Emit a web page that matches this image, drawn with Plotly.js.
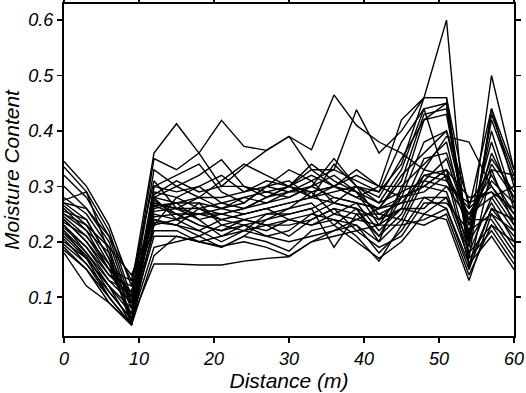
<!DOCTYPE html>
<html>
<head>
<meta charset="utf-8">
<script src="https://cdn.plot.ly/plotly-3.0.1.min.js"></script>
<style>html,body{margin:0;padding:0;background:#fff;}#chart{width:526px;height:393px;}</style>
</head>
<body>
<div id="chart"></div>
<script>
const distance = [0,3,6,9,12,15,18,21,24,27,30,33,36,39,42,45,48,51,54,57,60];

const s01 = [.345,.300,.230,.120,.360,.413,.360,.300,.335,.365,.390,.366,.465,.410,.380,.360,.330,.390,.380,.300,.250];
const s02 = [.335,.290,.220,.100,.350,.330,.360,.419,.372,.365,.390,.330,.300,.330,.300,.280,.300,.330,.220,.340,.280];
const s03 = [.320,.280,.210,.090,.330,.300,.320,.348,.300,.280,.300,.330,.330,.438,.360,.400,.460,.600,.150,.330,.230];
const s04 = [.300,.260,.200,.080,.300,.290,.300,.320,.290,.300,.310,.280,.340,.300,.290,.340,.460,.460,.200,.500,.330];
const s05 = [.280,.250,.190,.060,.290,.280,.260,.270,.280,.290,.300,.340,.310,.290,.270,.330,.440,.450,.170,.440,.300];
const s06 = [.275,.290,.180,.050,.280,.270,.270,.260,.280,.270,.290,.300,.280,.270,.260,.310,.430,.440,.190,.430,.320];
const s07 = [.270,.240,.170,.050,.270,.260,.260,.250,.260,.280,.290,.290,.300,.290,.230,.290,.420,.430,.210,.400,.270];
const s08 = [.265,.230,.160,.060,.275,.250,.250,.240,.250,.260,.270,.280,.290,.300,.240,.280,.380,.400,.230,.380,.260];
const s09 = [.260,.220,.150,.070,.280,.240,.270,.230,.240,.250,.250,.260,.280,.270,.220,.260,.350,.360,.240,.350,.290];
const s10 = [.255,.240,.170,.080,.270,.260,.250,.260,.250,.260,.240,.250,.270,.260,.210,.250,.330,.320,.250,.320,.250];
const s11 = [.250,.220,.180,.090,.260,.270,.240,.250,.240,.230,.230,.240,.260,.250,.250,.240,.320,.310,.260,.300,.240];
const s12 = [.245,.210,.160,.100,.265,.250,.230,.220,.230,.220,.240,.230,.250,.240,.230,.230,.310,.300,.270,.290,.230];
const s13 = [.240,.200,.150,.110,.250,.240,.220,.200,.220,.250,.260,.270,.230,.260,.200,.300,.300,.290,.180,.280,.220];
const s14 = [.240,.200,.140,.120,.240,.230,.210,.190,.210,.240,.250,.260,.190,.250,.210,.280,.290,.320,.160,.260,.210];
const s15 = [.235,.210,.150,.130,.255,.260,.240,.210,.230,.210,.220,.250,.240,.230,.180,.220,.280,.280,.200,.270,.200];
const s16 = [.230,.190,.130,.110,.245,.250,.230,.220,.240,.230,.210,.240,.260,.220,.190,.210,.270,.270,.220,.250,.190];
const s17 = [.230,.180,.130,.090,.235,.230,.220,.240,.250,.260,.270,.280,.270,.260,.240,.260,.260,.300,.240,.240,.180];
const s18 = [.225,.190,.140,.100,.230,.240,.250,.250,.260,.270,.280,.300,.320,.290,.250,.270,.320,.330,.180,.230,.170];
const s19 = [.220,.180,.120,.080,.220,.220,.200,.190,.210,.200,.183,.220,.230,.200,.170,.200,.250,.280,.170,.220,.160];
const s20 = [.220,.170,.120,.070,.210,.210,.200,.210,.220,.230,.240,.230,.240,.210,.165,.230,.240,.260,.160,.210,.150];
const s21 = [.215,.175,.110,.060,.190,.200,.210,.230,.220,.210,.200,.210,.220,.230,.200,.240,.230,.250,.140,.230,.200];
const s22 = [.210,.170,.100,.050,.175,.210,.200,.192,.200,.190,.174,.200,.210,.220,.230,.260,.250,.240,.130,.250,.220];
const s23 = [.205,.160,.110,.060,.160,.160,.158,.158,.165,.170,.173,.200,.220,.240,.260,.270,.280,.260,.150,.260,.240];
const s24 = [.200,.170,.120,.050,.230,.280,.300,.270,.260,.280,.300,.320,.300,.280,.260,.320,.360,.400,.270,.330,.320];
const s25 = [.195,.160,.100,.050,.265,.270,.280,.260,.270,.300,.330,.310,.270,.300,.280,.350,.420,.450,.200,.420,.310];
const s26 = [.190,.150,.100,.050,.280,.300,.280,.280,.290,.310,.300,.290,.300,.320,.300,.300,.340,.380,.210,.360,.280];
const s27 = [.185,.150,.090,.050,.285,.310,.290,.300,.300,.290,.280,.300,.350,.300,.270,.290,.310,.350,.230,.310,.270];
const s28 = [.180,.120,.090,.050,.300,.320,.340,.290,.270,.300,.290,.310,.330,.310,.290,.380,.440,.310,.250,.280,.300];
const s29 = [.270,.260,.210,.130,.310,.260,.280,.310,.340,.320,.300,.280,.300,.280,.300,.420,.460,.460,.260,.440,.330];
const s30 = [.250,.230,.190,.140,.240,.230,.260,.240,.230,.240,.260,.290,.250,.270,.260,.280,.300,.330,.280,.290,.260];

const series = [s01,s02,s03,s04,s05,s06,s07,s08,s09,s10,s11,s12,s13,s14,s15,s16,s17,s18,s19,s20,s21,s22,s23,s24,s25,s26,s27,s28,s29,s30];

const xTickVals = [0,10,20,30,40,50,60];
const yTickVals = [0.1,0.2,0.3,0.4,0.5,0.6];

const traces = series.map(s => ({
  x: distance, y: s, type: 'scatter', mode: 'lines',
  line: {color: '#000', width: 1.4}, hoverinfo: 'skip', showlegend: false
}));

const fnt = {family: 'Liberation Sans, Arial, sans-serif', size: 18, color: '#000', style: 'italic'};
const tfnt = {family: 'Liberation Sans, Arial, sans-serif', size: 21, color: '#000', style: 'italic'};

const layout = {
  width: 526, height: 393,
  margin: {l: 64, r: 12, t: 4, b: 57},
  paper_bgcolor: '#fff', plot_bgcolor: '#fff',
  showlegend: false,
  xaxis: {
    range: [0, 60], tickvals: xTickVals, ticktext: xTickVals.map(String),
    ticks: 'outside', ticklen: 5, tickwidth: 1.5, tickcolor: '#000',
    showline: true, linecolor: '#000', linewidth: 2, mirror: 'ticks',
    showgrid: false, zeroline: false, tickfont: fnt,
    title: {text: 'Distance (m)', font: tfnt, standoff: 6}
  },
  yaxis: {
    range: [0.03, 0.629], tickvals: yTickVals, ticktext: yTickVals.map(v => v.toFixed(1)),
    ticks: 'outside', ticklen: 5, tickwidth: 1.5, tickcolor: '#000',
    showline: true, linecolor: '#000', linewidth: 2, mirror: 'ticks',
    showgrid: false, zeroline: false, tickfont: fnt,
    title: {text: 'Moisture Content', font: tfnt, standoff: 8}
  }
};

Plotly.newPlot('chart', traces, layout, {displayModeBar: false, staticPlot: true});
</script>
</body>
</html>
